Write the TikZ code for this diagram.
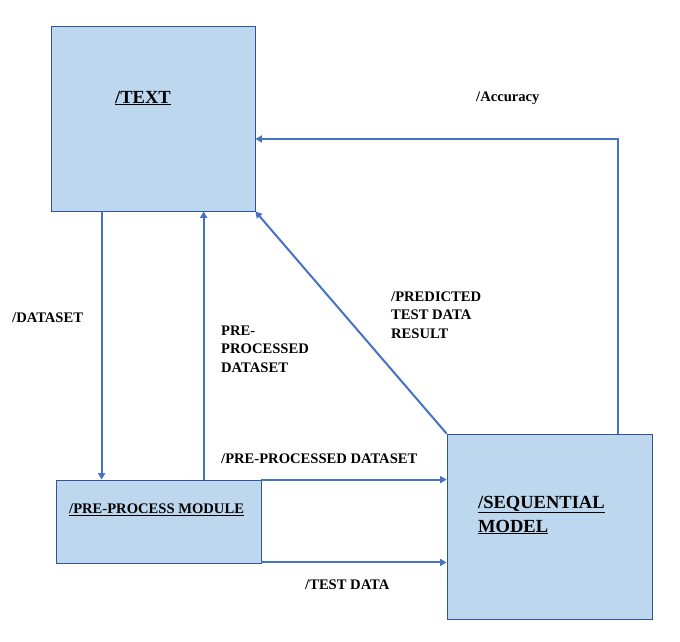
\documentclass[tikz,border=0pt]{standalone}
\usepackage{fontspec}
\setmainfont{Liberation Serif}
\usetikzlibrary{arrows.meta}
\definecolor{boxfill}{HTML}{BDD7EE}
\definecolor{boxline}{HTML}{2F5597}
\definecolor{arrline}{HTML}{4472C4}
\tikzset{
  box/.style={shape=rectangle,draw=boxline,fill=boxfill,line width=0.8pt,inner sep=0pt},
  arr/.style={draw=arrline,line width=2pt,-{Triangle[length=6.5pt,width=7pt]}},
  lbl/.style={anchor=west,inner sep=0pt,align=left,font=\bfseries\fontsize{14.6}{18.5}\selectfont},
  big/.style={lbl,font=\bfseries\fontsize{18.5}{24}\selectfont}
}
\begin{document}
\begin{tikzpicture}[x=1pt,y=-1pt]
\useasboundingbox (0,0) rectangle (680,642);
\node[box,minimum width=204pt,minimum height=185pt] (Text) at (153,118.5) {};
\node[box,minimum width=205pt,minimum height=83pt] (Pre) at (158.5,521.5) {};
\node[box,minimum width=205pt,minimum height=185pt] (Seq) at (549.5,526.5) {};

\node[big] (TextLbl) at (115,98) {\underline{/TEXT}};
\node[lbl] (PreLbl) at (69,510) {\underline{/PRE-PROCESS MODULE}};
\node[big] (SeqLbl) at (478,515) {\underline{/SEQUENTIAL}\\\underline{MODEL}};

\draw[arr] ([xshift=51pt]Text.south west) -- ([xshift=46pt]Pre.north west);
\draw[arr] ([xshift=148pt]Pre.north west) -- ([xshift=153pt]Text.south west);
\draw[arr] (Seq.north west) -- (Text.south east);
\draw[arr] ([xshift=-34pt]Seq.north east) |- ([yshift=-20.5pt]Text.east);
\draw[arr] (Pre.north east) -- (Pre.north east -| Seq.west);
\draw[arr] ([yshift=1pt]Pre.south east) -- ([yshift=1pt]Pre.south east -| Seq.west);

\node[lbl] (DataLbl) at (12,318) {/DATASET};
\node[lbl] (PpLbl) at (221,349) {PRE-\\PROCESSED\\DATASET};
\node[lbl] (PredLbl) at (391,315) {/PREDICTED\\TEST DATA\\RESULT};
\node[lbl] (AccLbl) at (476,98) {/Accuracy};
\node[lbl] (PpdLbl) at (221,459) {/PRE-PROCESSED DATASET};
\node[lbl] (TestLbl) at (305,585) {/TEST DATA};
\end{tikzpicture}
\end{document}
